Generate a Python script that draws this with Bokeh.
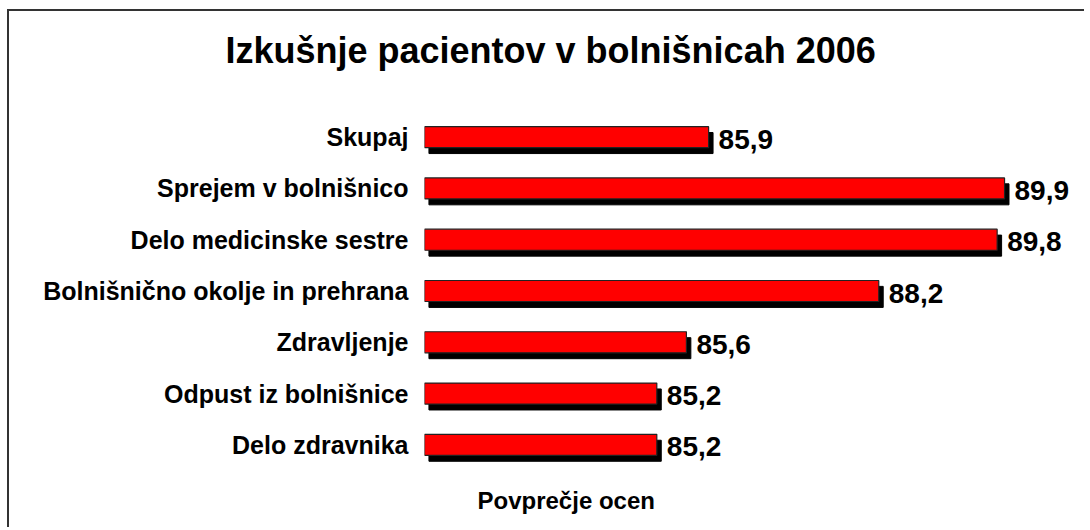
from bokeh.plotting import figure
from bokeh.models import ColumnDataSource, LabelSet, Title
from bokeh.core.properties import value
from bokeh.transform import dodge
from bokeh.embed import file_html
from bokeh.resources import INLINE

categories = ["Skupaj", "Sprejem v bolnišnico", "Delo medicinske sestre",
              "Bolnišnično okolje in prehrana", "Zdravljenje",
              "Odpust iz bolnišnice", "Delo zdravnika"]
values = [85.9, 89.9, 89.8, 88.2, 85.6, 85.2, 85.2]
value_labels = ["85,9", "89,9", "89,8", "88,2", "85,6", "85,2", "85,2"]
axis_min = 82.06
axis_max = 90.94
title_text = "Izkušnje pacientov v bolnišnicah 2006"
x_title = "Povprečje ocen"

FONT = "Liberation Sans"

src = ColumnDataSource(dict(cat=categories, val=values, lab=value_labels,
                            left=[axis_min] * len(values)))

p = figure(width=1077, height=518, output_backend="svg", toolbar_location=None,
           y_range=list(reversed(categories)), x_range=(axis_min, axis_max),
           min_border_left=415, min_border_right=5, min_border_top=100,
           min_border_bottom=59)
p.outline_line_color = None
p.background_fill_color = "white"
p.border_fill_color = "white"
p.grid.visible = False
p.styles = {"border-left": "2px solid #333333", "border-top": "2px solid #333333",
            "margin-left": "7px", "margin-top": "9px"}

# shadow
p.hbar(y=dodge("cat", -0.115, range=p.y_range), left=dodge("left", 0.06),
       right=dodge("val", 0.06), height=0.41, source=src,
       fill_color="black", line_color="black")
# bar
p.hbar(y="cat", left="left", right="val", height=0.41, source=src,
       fill_color="#FF0000", line_color="#222222", line_width=1.2)

labels = LabelSet(x="val", y="cat", text="lab", source=src, x_offset=10, y_offset=-2,
                  text_font=value(FONT), text_font_style="bold", text_font_size="28px",
                  text_baseline="middle", text_color="black")
p.add_layout(labels)

p.xaxis.visible = False
ya = p.yaxis[0]
ya.axis_line_color = None
ya.major_tick_line_color = None
ya.minor_tick_line_color = None
ya.major_tick_out = 0
ya.major_tick_in = 0
ya.major_label_standoff = 16
ya.major_label_text_font = FONT
ya.major_label_text_font_style = "bold"
ya.major_label_text_font_size = "25px"
ya.major_label_text_color = "black"

# trailing blank line keeps the title clear of the bars
p.add_layout(Title(text=title_text + "\n", align="left", offset=-199, standoff=0,
                   text_font=FONT, text_font_style="bold", text_font_size="36px",
                   text_color="black"), "above")
p.add_layout(Title(text=x_title, align="left", offset=53, standoff=28,
                   text_font=FONT, text_font_style="bold", text_font_size="24px",
                   text_color="black"), "below")

open("out.html", "w").write(file_html(p, INLINE))
